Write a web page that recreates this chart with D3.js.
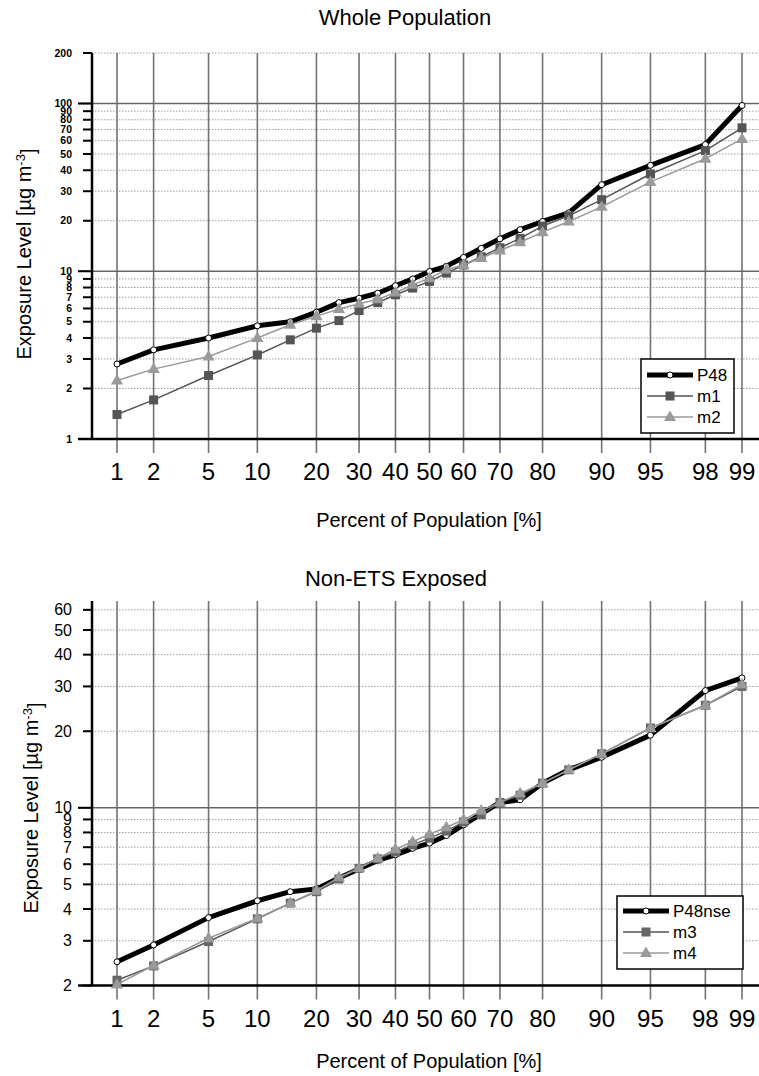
<!DOCTYPE html>
<html>
<head>
<meta charset="utf-8">
<script src="https://cdn.jsdelivr.net/npm/d3@7"></script>
<style>
body { margin: 0; background: #fff; }
svg { display: block; font-family: "Liberation Sans", Arial, sans-serif; }
</style>
</head>
<body>
<script>
// percent of population at which each series is sampled
var percentiles = [1, 2, 5, 10, 15, 20, 25, 30, 35, 40, 45, 50, 55, 60, 65, 70, 75, 80, 85, 90, 95, 98, 99];
var xTicks = [1, 2, 5, 10, 20, 30, 40, 50, 60, 70, 80, 90, 95, 98, 99];

// whole population
var p48 = [2.8, 3.4, 4.0, 4.73, 5.0, 5.7, 6.5, 6.9, 7.4, 8.2, 9.0, 9.97, 10.7, 12.1, 13.7, 15.6, 17.7, 19.8, 22.3, 32.8, 42.8, 56.9, 97.3];
var m1 = [1.40, 1.71, 2.39, 3.17, 3.9, 4.58, 5.08, 5.83, 6.5, 7.24, 7.94, 8.7, 9.75, 10.9, 12.2, 13.8, 15.7, 18.6, 21.4, 26.7, 38.0, 52.4, 71.6];
var m2 = [2.23, 2.61, 3.1, 4.0, 4.8, 5.4, 5.95, 6.4, 6.8, 7.47, 8.3, 9.1, 10.2, 10.9, 12.0, 13.3, 14.9, 17.1, 19.8, 24.2, 34.1, 46.8, 61.5];

// non-ETS exposed
var p48nse = [2.48, 2.89, 3.70, 4.31, 4.68, 4.80, 5.3, 5.75, 6.21, 6.53, 6.93, 7.26, 7.78, 8.57, 9.47, 10.5, 10.75, 12.5, 14.1, 15.8, 19.3, 28.9, 32.4];
var m3 = [2.10, 2.39, 2.98, 3.66, 4.22, 4.68, 5.25, 5.78, 6.3, 6.7, 7.15, 7.6, 8.1, 8.8, 9.4, 10.5, 11.2, 12.5, 14.1, 16.3, 20.6, 25.3, 30.0];
var m4 = [2.02, 2.40, 3.07, 3.68, 4.22, 4.72, 5.33, 5.8, 6.34, 6.87, 7.36, 7.87, 8.39, 8.97, 9.76, 10.5, 11.4, 12.5, 14.1, 16.3, 20.6, 25.3, 30.5];

var yTicksTop = [1, 2, 3, 4, 5, 6, 7, 8, 9, 10, 20, 30, 40, 50, 60, 70, 80, 90, 100, 200];
var yTicksBottom = [2, 3, 4, 5, 6, 7, 8, 9, 10, 20, 30, 40, 50, 60];

var W = 759, H = 1076;
var svg = d3.select("body").append("svg").attr("width", W).attr("height", H);

// inverse normal cdf, for the probability axis
function probit(p) {
	var a = [-3.969683028665376e+01, 2.209460984245205e+02, -2.759285104469687e+02, 1.383577518672690e+02, -3.066479806614716e+01, 2.506628277459239e+00];
	var b = [-5.447609879822406e+01, 1.615858368580409e+02, -1.556989798598866e+02, 6.680131188771972e+01, -1.328068155288572e+01];
	var c = [-7.784894002430293e-03, -3.223964580411365e-01, -2.400758277161838e+00, -2.549732539343734e+00, 4.374664141464968e+00, 2.938163982698783e+00];
	var d = [7.784695709041462e-03, 3.224671290700398e-01, 2.445134137142996e+00, 3.754408661907416e+00];
	var pl = 0.02425, q, r;
	if (p < pl) {
		q = Math.sqrt(-2 * Math.log(p));
		return (((((c[0]*q+c[1])*q+c[2])*q+c[3])*q+c[4])*q+c[5]) / ((((d[0]*q+d[1])*q+d[2])*q+d[3])*q+1);
	}
	if (p > 1 - pl) {
		q = Math.sqrt(-2 * Math.log(1 - p));
		return -(((((c[0]*q+c[1])*q+c[2])*q+c[3])*q+c[4])*q+c[5]) / ((((d[0]*q+d[1])*q+d[2])*q+d[3])*q+1);
	}
	q = p - 0.5; r = q * q;
	return (((((a[0]*r+a[1])*r+a[2])*r+a[3])*r+a[4])*r+a[5])*q / (((((b[0]*r+b[1])*r+b[2])*r+b[3])*r+b[4])*r+1);
}

var zScale = d3.scaleLinear().domain([probit(0.01), probit(0.99)]).range([117, 742]);
function px(p) { return zScale(probit(p / 100)); }

var axisX = 92;

function drawPanel(cfg) {
	var g = svg.append("g");
	var y = d3.scaleLog().domain(cfg.yDomain).range([cfg.yBottom, cfg.yTop]);

	// title
	g.append("text").attr("x", cfg.titleX).attr("y", cfg.titleY)
		.attr("text-anchor", "middle").style("font-size", "22px").text(cfg.title);

	// minor horizontal grid, dotted
	cfg.yTicks.forEach(function(v) {
		var major = cfg.majors.indexOf(v) >= 0;
		if (!major && v !== cfg.yDomain[0]) {
			g.append("line").attr("x1", axisX).attr("x2", W)
				.attr("y1", y(v)).attr("y2", y(v))
				.attr("stroke", "#a0a0a0").attr("stroke-width", 1)
				.attr("stroke-dasharray", "1.5,1.5");
		}
	});

	// vertical grid + x ticks
	xTicks.forEach(function(p) {
		g.append("line").attr("x1", px(p)).attr("x2", px(p))
			.attr("y1", cfg.yTop).attr("y2", cfg.yBottom + 14)
			.attr("stroke", "#737373").attr("stroke-width", 1.6);
		g.append("text").attr("x", px(p)).attr("y", cfg.yBottom + 41)
			.attr("text-anchor", "middle").style("font-size", "24px").text(p);
	});

	// major horizontal grid
	cfg.majors.forEach(function(v) {
		g.append("line").attr("x1", axisX - 14).attr("x2", W)
			.attr("y1", y(v)).attr("y2", y(v))
			.attr("stroke", "#666").attr("stroke-width", 1.5);
	});

	// y ticks + labels
	cfg.yTicks.forEach(function(v) {
		var major = cfg.majors.indexOf(v) >= 0;
		g.append("line").attr("x1", axisX - (major ? 14 : 9)).attr("x2", axisX)
			.attr("y1", y(v)).attr("y2", y(v))
			.attr("stroke", "#000").attr("stroke-width", 2);
		g.append("text").attr("x", cfg.labelX).attr("y", y(v)).attr("dy", "0.35em")
			.attr("text-anchor", "end")
			.style("font-size", cfg.labelSize).style("font-weight", cfg.labelWeight)
			.text(v);
	});

	// axes
	g.append("line").attr("x1", axisX).attr("x2", axisX)
		.attr("y1", cfg.yTop).attr("y2", cfg.yBottom)
		.attr("stroke", "#000").attr("stroke-width", 2.5);
	g.append("line").attr("x1", axisX - 14).attr("x2", W)
		.attr("y1", cfg.yBottom).attr("y2", cfg.yBottom)
		.attr("stroke", "#000").attr("stroke-width", 2.5);

	// axis titles
	var yt = g.append("text")
		.attr("transform", "translate(" + cfg.yTitleX + "," + cfg.yTitleY + ") rotate(-90)")
		.attr("text-anchor", "middle").style("font-size", "20px");
	yt.append("tspan").text("Exposure Level [\u00b5g m");
	yt.append("tspan").attr("dy", "-0.5em").style("font-size", "13px").text("-3");
	yt.append("tspan").attr("dy", "0.5em").text("]");

	g.append("text").attr("x", 429).attr("y", cfg.xTitleY)
		.attr("text-anchor", "middle").style("font-size", "20px")
		.text("Percent of Population [%]");

	// series
	var line = d3.line().x(function(d) { return px(d[0]); }).y(function(d) { return y(d[1]); });
	cfg.series.forEach(function(s) {
		var pts = percentiles.map(function(p, i) { return [p, s.values[i]]; });
		g.append("path").datum(pts).attr("d", line)
			.attr("fill", "none").attr("stroke", s.stroke).attr("stroke-width", s.width)
			.attr("stroke-linejoin", "round");
		pts.forEach(function(d) {
			drawMarker(g, s, px(d[0]), y(d[1]));
		});
	});

	// legend
	var L = cfg.legend;
	g.append("rect").attr("x", L.x).attr("y", L.y).attr("width", L.w).attr("height", L.h)
		.attr("fill", "#fff").attr("stroke", "#000").attr("stroke-width", 1.5);
	cfg.series.forEach(function(s, i) {
		var ly = L.y + L.first + i * L.step;
		g.append("line").attr("x1", L.x + 6).attr("x2", L.x + 52)
			.attr("y1", ly).attr("y2", ly)
			.attr("stroke", s.stroke).attr("stroke-width", s.width);
		drawMarker(g, s, L.x + 29, ly);
		g.append("text").attr("x", L.x + 56).attr("y", ly).attr("dy", "0.36em")
			.style("font-size", "17px").text(s.name);
	});
}

function drawMarker(g, s, cx, cy) {
	if (s.shape === "circle") {
		g.append("circle").attr("cx", cx).attr("cy", cy).attr("r", 3)
			.attr("fill", "#fff").attr("stroke", "#000").attr("stroke-width", 1);
	} else if (s.shape === "square") {
		g.append("rect").attr("x", cx - 4.5).attr("y", cy - 4.5).attr("width", 9).attr("height", 9)
			.attr("fill", s.fill);
	} else {
		g.append("path").attr("d", d3.symbol().type(d3.symbolTriangle).size(64)())
			.attr("transform", "translate(" + cx + "," + (cy + 0.5) + ")")
			.attr("fill", s.fill);
	}
}

drawPanel({
	title: "Whole Population", titleX: 405, titleY: 25,
	yDomain: [1, 200], yTop: 53, yBottom: 439,
	yTicks: yTicksTop, majors: [10, 100],
	labelX: 72, labelSize: "10.5px", labelWeight: "bold",
	yTitleX: 31, yTitleY: 254, xTitleY: 527,
	series: [
		{ name: "P48", values: p48, stroke: "#000", width: 5, shape: "circle" },
		{ name: "m1", values: m1, stroke: "#555", width: 1.5, shape: "square", fill: "#555" },
		{ name: "m2", values: m2, stroke: "#9a9a9a", width: 1.5, shape: "triangle", fill: "#9a9a9a" }
	],
	legend: { x: 641, y: 359, w: 93, h: 74, first: 16, step: 21 }
});

drawPanel({
	title: "Non-ETS Exposed", titleX: 396, titleY: 586,
	yDomain: [2, 65], yTop: 601, yBottom: 985.6,
	yTicks: yTicksBottom, majors: [10],
	labelX: 72, labelSize: "16px", labelWeight: "normal",
	yTitleX: 38, yTitleY: 808, xTitleY: 1068,
	series: [
		{ name: "P48nse", values: p48nse, stroke: "#000", width: 5, shape: "circle" },
		{ name: "m3", values: m3, stroke: "#555", width: 1.5, shape: "square", fill: "#666" },
		{ name: "m4", values: m4, stroke: "#9a9a9a", width: 1.5, shape: "triangle", fill: "#9a9a9a" }
	],
	legend: { x: 617, y: 896, w: 126, h: 73, first: 15, step: 21 }
});
</script>
</body>
</html>
